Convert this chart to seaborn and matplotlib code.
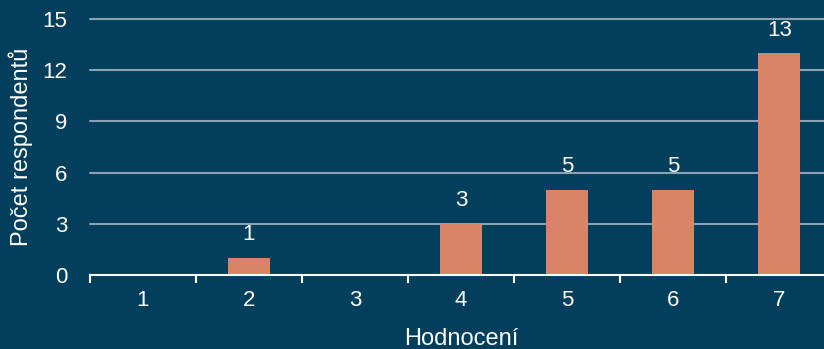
import numpy as np
import pandas as pd
import matplotlib
matplotlib.use("Agg")
import matplotlib.pyplot as plt
import seaborn as sns

# data
ratings = ["1", "2", "3", "4", "5", "6", "7"]
counts = [0, 1, 0, 3, 5, 5, 13]
y_ticks = [0, 3, 6, 9, 12, 15]

bg = "#023f5c"
bar_color = "#d98466"

sns.set_theme(style="white", rc={"axes.facecolor": bg, "figure.facecolor": bg})
plt.rcParams["font.family"] = ["Liberation Sans", "DejaVu Sans"]

data = pd.DataFrame({"rating": ratings, "count": counts})

fig = plt.figure(figsize=(8.24, 3.49), dpi=100)
ax = fig.add_axes([0.109, 0.212, 0.901, 0.734])

sns.barplot(data=data, x="rating", y="count", color=bar_color, width=0.4,
            saturation=1, linewidth=0, ax=ax, zorder=3)

ax.set_xlim(-0.5, 6.5)
ax.set_ylim(0, 15)
ax.set_yticks(y_ticks)
for yv in y_ticks[1:]:
    ax.axhline(yv, color="#8ba3b1", linewidth=1.5, zorder=1, clip_on=False)

# value labels, skip empty categories
for i, c in enumerate(counts):
    if c > 0:
        ax.annotate(str(c), (i, c), xytext=(0, 9), textcoords="offset points",
                    ha="center", va="bottom", color="white", fontsize=16)

for side in ["top", "right", "left"]:
    ax.spines[side].set_visible(False)
ax.spines["bottom"].set_color("white")
ax.spines["bottom"].set_linewidth(1.5)
ax.spines["bottom"].set_zorder(4)

ax.set_xticks(np.arange(-0.5, 7, 1), minor=True)
ax.tick_params(axis="x", which="minor", bottom=True, length=6, width=1.5,
               color="white", direction="out")
ax.tick_params(axis="x", which="major", bottom=False, length=0, pad=11,
               labelsize=16, labelcolor="white")
ax.tick_params(axis="y", length=0, pad=16, labelsize=16, labelcolor="white")

ax.set_xlabel("Hodnocení", color="white", fontsize=17, labelpad=12)
ax.set_ylabel("Počet respondentů", color="white", fontsize=17, labelpad=7)

fig.savefig("out.png", dpi=100, facecolor=bg)
